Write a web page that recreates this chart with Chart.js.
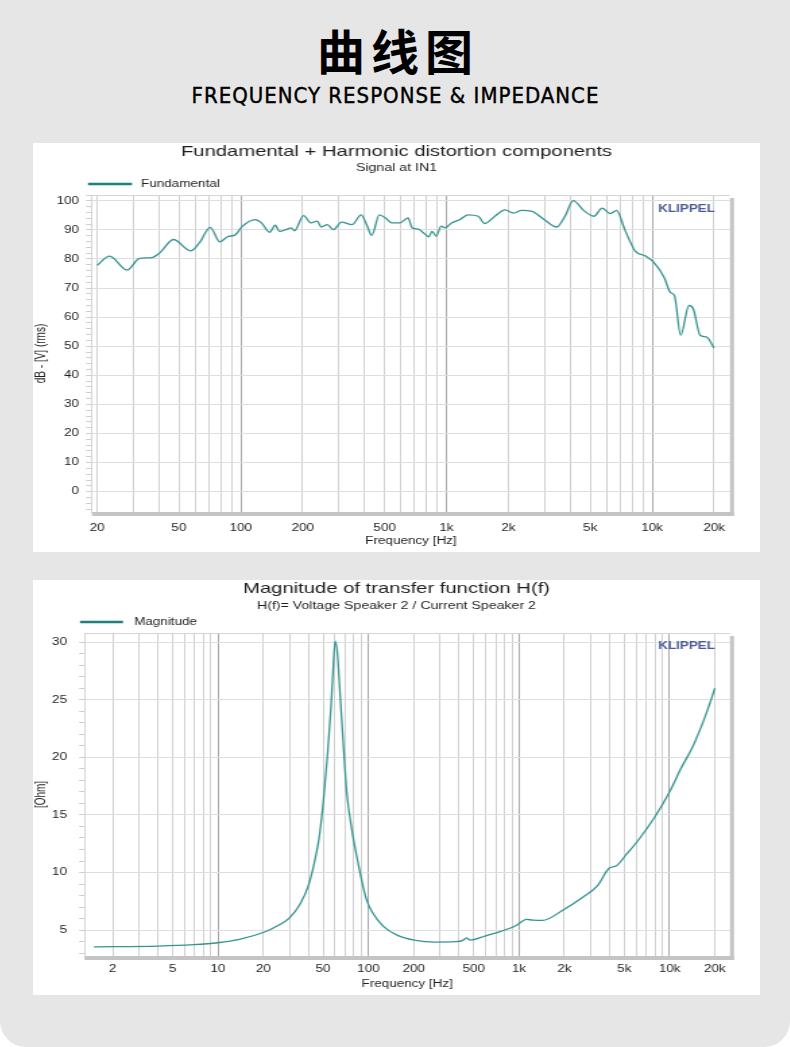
<!DOCTYPE html>
<html>
<head>
<meta charset="utf-8">
<script src="https://cdn.jsdelivr.net/npm/chart.js@4.4.1/dist/chart.umd.min.js"></script>
<style>
  html, body { margin: 0; padding: 0; background: #fff; }
  .page { position: relative; width: 790px; height: 1047px; background: #e6e6e6; border-radius: 0 0 26px 26px; overflow: hidden; }
  .head { position: absolute; left: 0; width: 790px; text-align: center; color: #000; white-space: nowrap; }
  .cn { top: 25px; font: 700 48px/48px "Noto Sans CJK SC", sans-serif; letter-spacing: 6px; text-indent: 6px; }
  .en { top: 85px; font: 400 22px/22px "DejaVu Sans Condensed", "DejaVu Sans", sans-serif; font-stretch: condensed;
        letter-spacing: 1px; text-indent: 1px; -webkit-text-stroke: 0.4px #000; }
  .panel { position: absolute; left: 33px; width: 727px; background: #fff; }
  #p1 { top: 143px; height: 409px; }
  #p2 { top: 580px; height: 415px; }
</style>
</head>
<body>
<div class="page">
  <div class="head cn">曲线图</div>
  <div class="head en">FREQUENCY RESPONSE &amp; IMPEDANCE</div>
  <div class="panel" id="p1"><canvas id="c1"></canvas></div>
  <div class="panel" id="p2"><canvas id="c2"></canvas></div>
</div>
<script>
// --- chart 1: fundamental response
const fundFreq = [20, 23, 28, 32, 37, 40.5, 47, 57, 63, 71, 79, 87, 93, 102, 117, 126, 138, 147, 154, 166,
    176, 182, 202, 219, 235, 246, 263, 282, 309, 347, 385, 409, 433, 471, 505, 541, 593, 650, 681, 730,
    772, 820, 851, 891, 942, 986, 1057, 1159, 1271, 1428, 1530, 1718, 1928, 2114, 2318, 2604, 2990, 3436, 3768, 4131,
    4640, 5210, 5712, 6263, 6714, 7360, 8273, 9285, 10190, 11440, 12250, 12830, 13760, 15090, 15850, 17100, 18330, 20000];
const fundDb = [77.8, 81.0, 76.2, 80.1, 80.5, 82.2, 86.7, 82.8, 85.6, 90.9, 85.9, 87.8, 88.1, 91.3, 93.5, 92.4, 89.2, 91.6, 89.5, 90.1,
    90.7, 89.7, 94.9, 92.4, 93.0, 91.0, 91.8, 90.1, 92.7, 91.8, 95.2, 91.8, 88.1, 95.2, 94.1, 92.4, 92.4, 94.1, 90.7, 90.3,
    89.0, 87.6, 89.5, 87.8, 91.3, 90.7, 92.4, 93.5, 95.2, 94.7, 92.2, 94.7, 96.9, 95.8, 96.7, 96.4, 93.5, 91.0, 94.7, 100.1,
    96.7, 94.7, 97.5, 95.6, 96.7, 90.1, 82.7, 81.0, 78.8, 73.6, 68.5, 67.4, 53.8, 64.0, 62.8, 53.8, 53.2, 49.4];
const fundXLabels = [20, 50, 100, 200, 500, 1000, 2000, 5000, 10000, 20000];
const fundYLabels = [0, 10, 20, 30, 40, 50, 60, 70, 80, 90, 100];

// --- chart 2: impedance magnitude
const magFreq = [1.5, 4, 6.9, 10, 13.9, 20.4, 24.7, 29.9, 35, 39.8, 43.7, 47.2, 50.3, 53.6, 56.4, 58.2, 60.1, 62.1, 64.9, 68.2,
    71.8, 77.6, 85.3, 96.9, 106.6, 125, 156, 201, 277, 380, 427, 446, 475, 593, 765, 957, 1122, 1234, 1428, 1988,
    2564, 3304, 4000, 4403, 5163, 6250, 8055, 10070, 11800, 14290, 17300, 20000];
const magOhm = [3.55, 3.61, 3.73, 3.90, 4.19, 4.83, 5.35, 6.07, 7.23, 8.82, 10.84, 13.16, 16.34, 20.4, 24.4, 27.6, 30.1, 29.1, 25.3, 21.0,
    16.9, 13.7, 10.84, 7.66, 6.5, 5.35, 4.54, 4.13, 3.96, 3.99, 4.13, 4.33, 4.13, 4.48, 4.91, 5.40, 5.93, 5.87, 5.84, 6.79,
    7.72, 8.82, 10.41, 10.56, 11.57, 12.87, 14.9, 17.07, 18.95, 20.97, 23.6, 26.0];
const magXLabels = [2, 5, 10, 20, 50, 100, 200, 500, 1000, 2000, 5000, 10000, 20000];
const magYLabels = [5, 10, 15, 20, 25, 30];

const FONT = '"Liberation Sans", Arial, sans-serif';
const TEXT = '#1e1e1e';
const LINE = '#35948f';
const S = 1.35; // source screenshot is stretched sideways

// 1..9 x 10^n grid positions between lo and hi
function logGrid(lo, hi) {
    const out = [];
    for (let e = -1; e <= 5; e++) {
        for (let m = 1; m <= 9; m++) {
            const v = m * Math.pow(10, e);
            if (v >= lo && v <= hi) out.push(Number(v.toPrecision(6)));
        }
    }
    return out;
}
const isDecade = v => Math.abs(Math.log10(v) - Math.round(Math.log10(v))) < 1e-9;
const fmtHz = v => v >= 1000 ? (v / 1000) + 'k' : String(v);

const decor = {
    id: 'decor',
    beforeDatasetsDraw(chart) {
        const { ctx, chartArea: a } = chart;
        ctx.save();
        ctx.strokeStyle = '#d6d6d6';
        ctx.lineWidth = 1;
        ctx.beginPath();
        ctx.moveTo(a.left, a.top + 0.5);
        ctx.lineTo(a.right, a.top + 0.5);
        ctx.stroke();
        ctx.restore();
    },
    afterDraw(chart, args, o) {
        const { ctx, chartArea: a } = chart;
        ctx.save();
        // grey shadow bars, right and bottom
        ctx.fillStyle = '#c4c4c4';
        ctx.fillRect(a.right, a.top + 3, o.barW, a.bottom - a.top + 1);
        ctx.fillRect(a.left, a.bottom, a.right - a.left + o.barW, 4);
        // KLIPPEL mark
        ctx.font = 'bold 10px ' + FONT;
        ctx.fillStyle = '#4a5a96';
        ctx.textAlign = 'right';
        ctx.textBaseline = 'middle';
        ctx.fillText('KLIPPEL', o.klipX, o.klipY);
        // legend
        const ds = chart.data.datasets[0];
        ctx.strokeStyle = '#1f7f7a';
        ctx.lineWidth = 2.5;
        ctx.beginPath();
        ctx.moveTo(o.legX0, o.legY);
        ctx.lineTo(o.legX1, o.legY);
        ctx.stroke();
        ctx.font = '10px ' + FONT;
        ctx.fillStyle = TEXT;
        ctx.textAlign = 'left';
        ctx.fillText(ds.label, o.legTextX, o.legY);
        ctx.restore();
    }
};

function makeChart(id, c) {
    const canvas = document.getElementById(id);
    const W = 727, H = c.h;
    canvas.width = Math.round(W / S);
    canvas.height = H;
    canvas.style.width = W + 'px';
    canvas.style.height = H + 'px';
    const k = W / canvas.width;
    const cx = v => (v - 33) / k;       // page x -> canvas x
    const cy = v => v - c.top;          // page y -> canvas y

    const plotL = cx(c.plot[0]), plotT = cy(c.plot[1]), plotR = cx(c.plot[2]), plotB = cy(c.plot[3]);
    const xGrid = logGrid(c.gridLo, c.gridHi);
    const yMinor = [];
    for (let v = c.yMinorFrom; v <= c.yMax + 1e-9; v += c.yMinorStep) yMinor.push(v);

    return new Chart(canvas, {
        type: 'line',
        data: {
            datasets: [{
                label: c.label,
                data: c.xs.map((x, i) => ({ x: x, y: c.ys[i] })),
                borderColor: LINE,
                borderWidth: 1.3,
                pointRadius: 0,
                cubicInterpolationMode: 'monotone',
                fill: false,
                yAxisID: 'y'
            }]
        },
        options: {
            responsive: false,
            animation: false,
            events: [],
            layout: { padding: 0 },
            plugins: {
                legend: { display: false },
                tooltip: { enabled: false },
                title: { display: true, text: c.title, color: TEXT, font: { family: FONT, size: 15, weight: 'normal' }, padding: { top: 0, bottom: 0 } },
                subtitle: { display: true, text: c.subtitle, color: TEXT, font: { family: FONT, size: 10.5 }, padding: { top: c.subPadTop, bottom: plotT - 18 - c.subPadTop - 12.6 } },
                decor: {
                    barW: 4 / k,
                    klipX: cx(715), klipY: c.klipY,
                    legX0: cx(c.leg[0]), legX1: cx(c.leg[1]), legTextX: cx(c.leg[2]), legY: c.leg[3]
                }
            },
            scales: {
                x: {
                    type: 'logarithmic',
                    min: c.xMin, max: c.xMax,
                    afterBuildTicks: s => { s.ticks = xGrid.map(v => ({ value: v })); },
                    afterFit: s => { s.height = H - plotB; },
                    ticks: {
                        autoSkip: false, maxRotation: 0, minRotation: 0,
                        padding: c.xTickPad,
                        color: TEXT, font: { family: FONT, size: 10 },
                        callback: v => c.xLabels.includes(v) ? fmtHz(v) : ''
                    },
                    grid: {
                        drawTicks: false,
                        color: ctx => isDecade(ctx.tick.value) ? '#a8a8a8' : '#d0d0d0'
                    },
                    border: { display: false },
                    title: { display: true, text: 'Frequency [Hz]', color: TEXT, font: { family: FONT, size: 10 }, padding: { top: 0, bottom: 5 } }
                },
                y: {
                    min: c.yMin, max: c.yMax,
                    afterBuildTicks: s => { s.ticks = yMinor.map(v => ({ value: v })); },
                    afterFit: s => { s.width = plotL; },
                    ticks: {
                        autoSkip: false,
                        padding: c.yTickPad / k,
                        color: TEXT, font: { family: FONT, size: 10 },
                        callback: v => c.yLabels.includes(v) ? String(v) : ''
                    },
                    grid: {
                        drawTicks: true,
                        tickLength: c.yTickLen / k,
                        color: ctx => c.yLabels.includes(ctx.tick.value) ? '#dedede' : 'rgba(0,0,0,0)',
                        tickColor: '#cfcfcf'
                    },
                    border: { display: true, color: '#d6d6d6' },
                    title: { display: true, text: c.yTitle, color: TEXT, font: { family: FONT, size: 10 }, padding: { top: c.yTitlePad, bottom: 0 } }
                },
                // empty right-hand gutter, keeps the titles centred on the whole panel
                gutter: {
                    position: 'right',
                    display: true,
                    ticks: { display: false },
                    grid: { display: false },
                    border: { display: false },
                    afterFit: s => { s.width = canvas.width - plotR; }
                }
            }
        },
        plugins: [decor]
    });
}

makeChart('c1', {
    top: 143, h: 409,
    plot: [92, 195, 730, 512],
    xMin: 18.9, xMax: 23900, gridLo: 20, gridHi: 20000,
    yMin: -7, yMax: 102, yMinorFrom: -6, yMinorStep: 2,
    xs: fundFreq, ys: fundDb, xLabels: fundXLabels, yLabels: fundYLabels,
    label: 'Fundamental',
    title: 'Fundamental + Harmonic distortion components',
    subtitle: 'Signal at IN1', subPadTop: 1,
    yTitle: 'dB - [V] (rms)', yTitlePad: 0,
    xTickPad: 10, yTickPad: 7, yTickLen: 6,
    klipY: 66,
    leg: [88, 132, 141, 41]
});

makeChart('c2', {
    top: 580, h: 415,
    plot: [84.5, 633, 730, 956],
    xMin: 1.3, xMax: 25200, gridLo: 2, gridHi: 20000,
    yMin: 2.75, yMax: 30.8, yMinorFrom: 3, yMinorStep: 1,
    xs: magFreq, ys: magOhm, xLabels: magXLabels, yLabels: magYLabels,
    label: 'Magnitude',
    title: 'Magnitude of transfer function H(f)',
    subtitle: 'H(f)= Voltage Speaker 2 / Current Speaker 2', subPadTop: 2,
    yTitle: '[Ohm]', yTitlePad: 0,
    xTickPad: 7, yTickPad: 12, yTickLen: 5.5,
    klipY: 66,
    leg: [80, 123, 134, 42]
});
</script>
</body>
</html>
